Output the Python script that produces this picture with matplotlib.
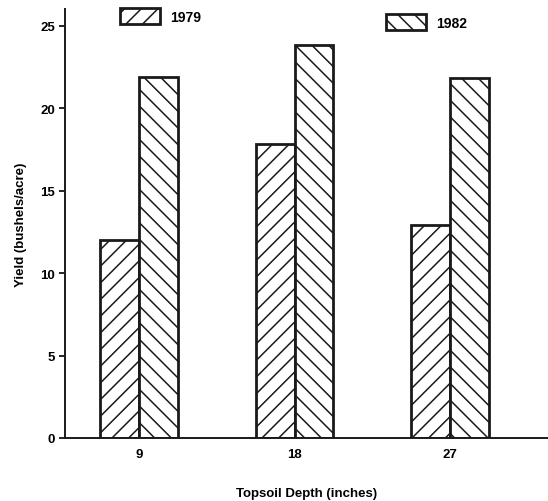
import matplotlib
matplotlib.use("Agg")
import matplotlib.pyplot as plt
import numpy as np

# values
depths = ["9", "18", "27"]
yield_1979 = [12.0, 17.8, 12.9]
yield_1982 = [21.9, 23.8, 21.8]

plt.rcParams["font.family"] = ["Liberation Sans", "DejaVu Sans"]
plt.rcParams["font.weight"] = "bold"
plt.rcParams["hatch.linewidth"] = 1.1
plt.rcParams["hatch.color"] = "#222222"

fig = plt.figure(figsize=(5.48, 5.02), dpi=100)
ax = fig.add_axes([0.1186, 0.1255, 0.8814, 0.8545])

x = np.arange(len(depths))
w = 0.25
b1 = ax.bar(x - w / 2, yield_1979, w, facecolor="white", edgecolor="#1a1a1a",
            linewidth=2, hatch="//", label="1979")
b2 = ax.bar(x + w / 2, yield_1982, w, facecolor="white", edgecolor="#1a1a1a",
            linewidth=2, hatch="\\\\", label="1982")

ax.set_xlim(-0.476, 2.63)
ax.set_ylim(0, 26)
ax.set_yticks([0, 5, 10, 15, 20, 25])
ax.set_xticks(x)
ax.set_xticklabels(depths)
ax.tick_params(axis="x", length=0, pad=7, labelsize=9.5)
ax.tick_params(axis="y", length=4, width=1.2, pad=3, labelsize=9.5)
for side in ("top", "right"):
    ax.spines[side].set_visible(False)
for side in ("left", "bottom"):
    ax.spines[side].set_linewidth(1.4)
    ax.spines[side].set_color("#1a1a1a")

ax.set_ylabel("Yield (bushels/acre)", fontsize=9.5, fontweight="bold", labelpad=10)
ax.set_xlabel("Topsoil Depth (inches)", fontsize=9.5, fontweight="bold", labelpad=20)

leg_kw = dict(frameon=False, fontsize=10, handlelength=2.9, handleheight=1.45,
              handletextpad=0.7, borderpad=0, borderaxespad=0,
              loc="center left", bbox_transform=fig.transFigure)
leg1 = ax.legend(handles=[b1], bbox_to_anchor=(120 / 548, 1 - 17 / 502), **leg_kw)
ax.add_artist(leg1)
ax.legend(handles=[b2], bbox_to_anchor=(386 / 548, 1 - 23 / 502), **leg_kw)

fig.savefig("out.png", dpi=100)
